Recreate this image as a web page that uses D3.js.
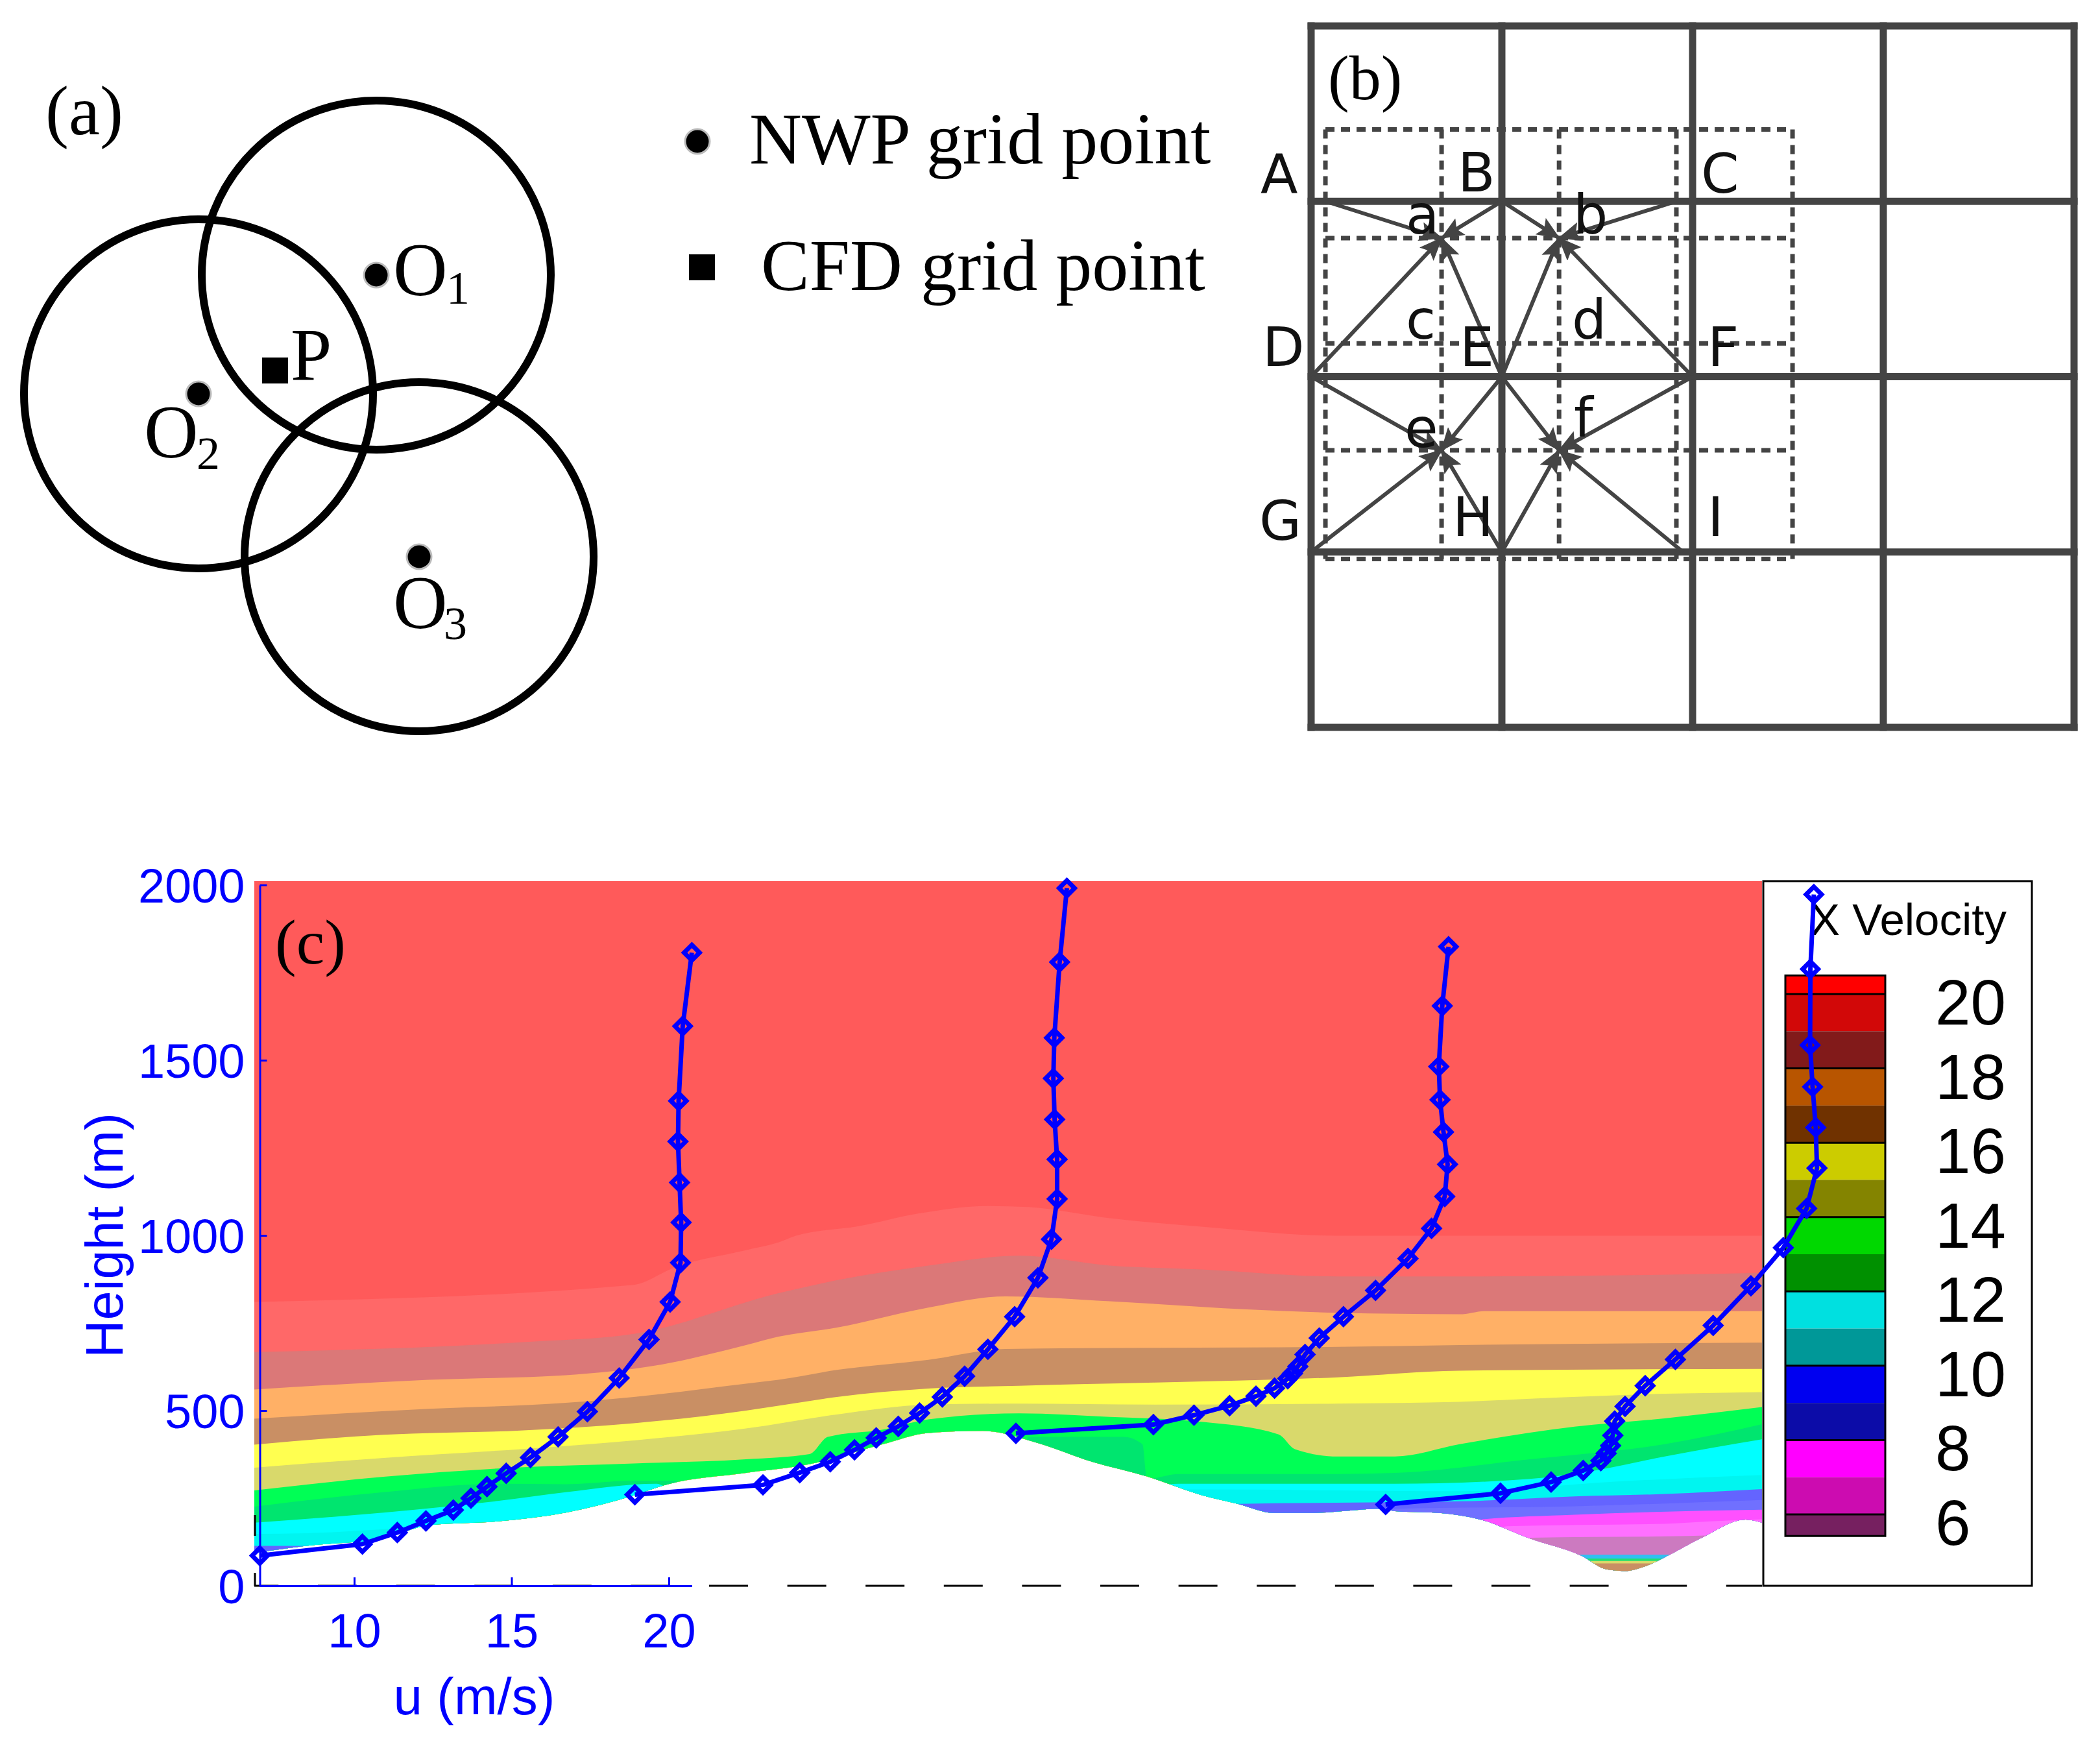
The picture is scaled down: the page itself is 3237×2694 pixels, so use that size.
<!DOCTYPE html>
<html><head><meta charset="utf-8">
<script src="https://cdnjs.cloudflare.com/ajax/libs/d3/7.8.5/d3.min.js"></script>
<style>html,body{margin:0;padding:0;background:#fff}svg{display:block}</style>
</head><body><svg id="c" width="3237" height="2694" viewBox="0 0 3237 2694"></svg>
<script>
// ---------- panel (c) data ----------
const heightTicks = [0,500,1000,1500,2000];
const speedTicks = [10,15,20];
const profileOffsets = [0,12,24,36];
const profile1U = [7.0,10.26,11.37,12.28,13.15,13.71,14.22,14.83,15.6,16.48,17.41,18.42,19.37,20.04,20.37,20.39,20.34,20.29,20.31,20.44,20.73];
const profile1H = [86,119,152,185,216,250,283,321,366,425,497,593,703,810,922,1037,1151,1268,1384,1597,1807];
const profile2U = [6.92,10.99,12.16,13.13,13.90,14.59,15.29,15.97,16.69,17.40,18.14,18.99,19.73,20.16,20.34,20.34,20.26,20.22,20.25,20.42,20.65];
const profile2H = [260,288,323,354,388,422,455,493,539,598,675,768,879,989,1104,1217,1331,1448,1564,1780,1991];
const profile3U = [7.03,11.40,12.69,13.82,14.66,15.25,15.67,15.82,15.99,16.22,16.67,17.44,18.46,19.49,20.24,20.66,20.75,20.62,20.51,20.47,20.58,20.78];
const profile3H = [435,460,487,514,541,564,591,606,626,660,707,768,843,934,1020,1111,1203,1295,1387,1482,1655,1824];
const profile4U = [6.78,10.43,12.04,13.06,13.62,13.79,13.93,14.0,14.06,14.39,15.03,15.99,17.19,18.39,19.42,20.16,20.49,20.45,20.35,20.27,20.28,20.39];
const profile4H = [232,264,296,329,357,378,400,429,470,512,571,646,743,856,965,1077,1192,1308,1424,1543,1760,1973];

// terrain and velocity band edges: [chainage along the section, height (m)]
const terrain = [[0,94],[80,114],[199,135],[269,173],[375,184],[480,209],[585,258],[634,288],[758,322],[856,347],[969,404],[1039,436],[1123,442],[1207,408],[1291,354],[1376,312],[1460,259],[1516,234],[1572,208],[1628,208],[1740,220],[1758,213],[1827,208],[1890,189],[1966,135],[2046,85],[2084,47],[2112,42],[2146,57],[2174,81],[2229,135],[2299,189],[2324,180]];
const edge1 = [[0,810],[585,859],[648,909],[758,958],[808,980],[835,999],[933,1027],[1025,1063],[1130,1084],[1193,1081],[1319,1049],[1460,1025],[1670,999],[1858,999],[2324,999]];
const edge2 = [[0,667],[410,695],[585,719],[808,835],[898,872],[1039,914],[1179,942],[1319,914],[1460,903],[1670,883],[1858,883],[2105,886],[2324,893]];
const edge3 = [[0,560],[269,588],[480,601],[620,629],[758,687],[808,711],[898,737],[1039,794],[1158,826],[1319,812],[1530,789],[1670,779],[1858,775],[1897,784],[2324,784]];
const edge4 = [[0,477],[269,505],[480,522],[620,546],[758,577],[808,588],[898,616],[1039,645],[1158,676],[1390,679],[1670,682],[1858,687],[2324,694]];
const edge5 = [[0,403],[199,431],[410,443],[585,464],[758,500],[808,514],[898,539],[1039,563],[1179,571],[1390,580],[1670,595],[1858,614],[2324,619]];
const edge6 = [[0,337],[199,365],[410,390],[585,415],[758,449],[898,489],[1039,517],[1179,520],[1390,517],[1670,520],[1858,525],[1966,534],[2174,548],[2324,553]];
const edge7 = [[0,272],[199,311],[410,338],[585,349],[758,361],[856,376],[884,425],[969,446],[1039,475],[1179,492],[1319,482],[1460,468],[1579,432],[1604,390],[1670,369],[1758,369],[1858,404],[2035,454],[2174,478],[2324,510]];
const edge8 = [[0,226],[199,267],[375,291],[480,290],[585,300],[650,300],[660,280],[1180,280],[1193,425],[1340,425],[1369,404],[1376,305],[1425,319],[1670,319],[1758,322],[1966,361],[2174,404],[2324,461]];
const edge9 = [[0,180],[199,209],[375,242],[480,267],[620,291],[640,280],[1380,285],[1425,291],[1758,291],[1966,305],[2070,330],[2174,369],[2324,418]];
const edge10 = [[0,148],[80,150],[269,170],[1460,275],[1858,270],[2105,298],[2324,316]];
const edge11 = [[0,114],[80,114],[200,120],[1516,234],[1858,241],[2035,255],[2174,262],[2324,276]];
const edge12 = [[0,80],[1650,195],[1758,220],[2035,227],[2324,245]];
const edge13 = [[0,60],[1880,160],[1890,189],[2035,203],[2324,217]];
const edge14 = [[0,50],[1897,150],[1931,170],[2174,177],[2243,184],[2324,190]];
const edge15 = [[0,40],[1950,130],[1966,137],[2209,142],[2324,150]];
const edge16 = [[0,89],[2324,89]];
const edge17 = [[0,78],[2324,78]];
const edge18 = [[0,71],[2324,71]];
const edge19 = [[0,64],[2324,64]];
const bandEdges = [edge1,edge2,edge3,edge4,edge5,edge6,edge7,edge8,edge9,edge10,edge11,edge12,edge13,edge14,edge15,edge16,edge17,edge18,edge19];
const bandColors = ["#ff6868","#db7878","#ffb066","#c98f64","#ffff50","#d9d96b","#00ff55","#00e56f","#00ffff","#00f5f0","#6464ff","#7070ff","#ff50ff","#ff70ff","#cc7ac0","#30c0f0","#20e070","#d9d96b","#c98f64"];
const fieldColor = "#ff5a5a";

const legendStops = [20.5,20,19,18,17,16,15,14,13,12,11,10,9,8,7,6,5.42];
const legendColors = ["#ff0000","#d20808","#821a1a","#b85500","#703200","#cccc00","#848400","#00d800","#009000","#00e0e0","#009898","#0000f0","#0c0ca8","#ff00ff","#cc0cb0","#762060"];
const legendMajor = [20,18,16,14,12,10,8,6];

// ---------- panel (a) data (scheme units) ----------
const influenceCircles = [{name:"O1",x:580,y:424},{name:"O2",x:306,y:607},{name:"O3",x:646,y:858}];
const influenceRadius = 269;

// ---------- panel (b) data (coarse-cell units) ----------
const coarseLines = [0,1,2,3,4];
const fineX = [0.075,0.684,1.30,1.915,2.524];
const fineY = [0.59,1.21,1.81,2.42,3.04];
const nodes = {A:[0.075,1],B:[1,1],C:[1.915,1],D:[0,2],E:[1,2],F:[2,2],G:[0,3],H:[1,3],I:[1.95,3]};
const fine = {a:[1,1],b:[2,1],e:[1,3],f:[2,3]};
const arrows = [["A","a"],["B","a"],["D","a"],["E","a"],["B","b"],["C","b"],["E","b"],["F","b"],["D","e"],["E","e"],["G","e"],["H","e"],["E","f"],["F","f"],["H","f"],["I","f"]];

// ---------- drawing ----------
const SERIF="'Liberation Serif',serif", SANS="'Liberation Sans',sans-serif", DJ="'DejaVu Sans',sans-serif";
const svg=d3.select("#c");
function txt(s,x,y,size,fam,fill,anchor){return svg.append("text").attr("x",x).attr("y",y).attr("font-size",size).attr("font-family",fam).attr("fill",fill||"#000").attr("text-anchor",anchor||"start").text(s);}

// panel a
const gA=svg.append("g");
gA.selectAll("circle.ring").data(influenceCircles).join("circle").attr("class","ring").attr("cx",d=>d.x).attr("cy",d=>d.y).attr("r",influenceRadius).attr("fill","none").attr("stroke","#000").attr("stroke-width",12);
const dotData=[...influenceCircles,{x:1075,y:218}];
gA.selectAll("circle.dot").data(dotData).join("circle").attr("class","dot").attr("cx",d=>d.x).attr("cy",d=>d.y).attr("r",19).attr("fill","#000").attr("stroke","#bbb").attr("stroke-width",3);
[[424,571],[1082,412]].forEach(p=>gA.append("rect").attr("x",p[0]-20).attr("y",p[1]-20).attr("width",40).attr("height",40).attr("fill","#000"));
txt("(a)",70,207,108,SERIF);
txt("NWP grid point",1155,252,112,SERIF);
txt("CFD grid point",1173,447,112,SERIF);
txt("O",606,455,116,SERIF);txt("1",688,468,72,SERIF);
txt("P",448,585,114,SERIF);
txt("O",222,705,116,SERIF);txt("2",303,723,72,SERIF);
txt("O",606,968,116,SERIF);txt("3",684,985,72,SERIF);

// panel b
const xB=d3.scaleLinear([0,4],[2021,3197]), yB=d3.scaleLinear([0,4],[40,1121]);
const gB=svg.append("g").attr("stroke-linecap","square");
const ink="#444";
const defs=svg.append("defs");
defs.append("marker").attr("id","head").attr("markerUnits","userSpaceOnUse").attr("viewBox","0 -15 36 30").attr("refX",34).attr("refY",0).attr("markerWidth",36).attr("markerHeight",30).attr("orient","auto")
  .append("path").attr("d","M0,-15L36,0L0,15L7,0Z").attr("fill",ink);
fineX.forEach(v=>gB.append("line").attr("x1",xB(v)).attr("x2",xB(v)).attr("y1",yB(fineY[0])).attr("y2",yB(fineY[4])).attr("stroke",ink).attr("stroke-width",7).attr("stroke-dasharray","14,10").attr("stroke-linecap","butt"));
fineY.forEach(v=>gB.append("line").attr("y1",yB(v)).attr("y2",yB(v)).attr("x1",xB(fineX[0])).attr("x2",xB(fineX[4])).attr("stroke",ink).attr("stroke-width",7).attr("stroke-dasharray","14,10").attr("stroke-linecap","butt"));
coarseLines.forEach(v=>{
  gB.append("line").attr("x1",xB(v)).attr("x2",xB(v)).attr("y1",yB(0)).attr("y2",yB(4)).attr("stroke",ink).attr("stroke-width",11);
  gB.append("line").attr("y1",yB(v)).attr("y2",yB(v)).attr("x1",xB(0)).attr("x2",xB(4)).attr("stroke",ink).attr("stroke-width",11);
});
arrows.forEach(([s,t])=>{
  const a=nodes[s],f=fine[t];
  gB.append("line").attr("x1",xB(a[0])).attr("y1",yB(a[1])).attr("x2",xB(fineX[f[0]])).attr("y2",yB(fineY[f[1]])).attr("stroke",ink).attr("stroke-width",6).attr("stroke-linecap","butt").attr("marker-end","url(#head)");
});
txt("(b)",2047,153,98,SERIF);
[["A",1943,298],["B",2247,295],["C",2622,297],["a",2167,360],["b",2425,360],["c",2167,522],["d",2423,522],["D",1946,564],["E",2250,564],["F",2632,564],["e",2165,689],["f",2426,673],["G",1941,832],["H",2239,826],["I",2632,826]]
 .forEach(d=>txt(d[0],d[1],d[2],84,DJ,"#111"));

// panel c
const xU=d3.scaleLinear([7,20],[400.5,1031]);
const yH=d3.scaleLinear([0,2000],[2444,1364]);
const xS=d3.scaleLinear([0,2324],[392,2716]);
const topH=yH.invert(1358);
const gC=svg.append("g");
defs.append("clipPath").attr("id","ground").append("path").attr("d",
  d3.area().x(d=>xS(d[0])).y0(yH(topH)).y1(d=>yH(d[1])).curve(d3.curveMonotoneX)(terrain));
const field=gC.append("g").attr("clip-path","url(#ground)");
field.append("rect").attr("x",xS(0)).attr("y",yH(topH)).attr("width",xS(2324)-xS(0)).attr("height",yH(0)-yH(topH)).attr("fill",fieldColor);
bandEdges.forEach((e,i)=>{
  field.append("path").attr("d",d3.area().x(d=>xS(d[0])).y0(yH(0)).y1(d=>yH(d[1])).curve(d3.curveMonotoneX)(e)).attr("fill",bandColors[i]);
});
// baseline
gC.append("line").attr("x1",xS(0)).attr("x2",xS(2324)).attr("y1",yH(0)).attr("y2",yH(0)).attr("stroke","#000").attr("stroke-width",3).attr("stroke-dasharray","60,60.6").attr("stroke-dashoffset",22.6);
gC.append("line").attr("x1",393).attr("x2",393).attr("y1",2335).attr("y2",2367).attr("stroke","#000").attr("stroke-width",3);
gC.append("line").attr("x1",393).attr("x2",393).attr("y1",2424).attr("y2",2444).attr("stroke","#000").attr("stroke-width",3);
// axes
const axisX=d3.scaleLinear([7,20.73],[xU(7),xU(20.73)]);
const ax=gC.append("g").attr("transform",`translate(0,${yH(0)})`).call(d3.axisBottom(axisX).tickValues(speedTicks).tickFormat(d3.format("d")).tickSizeInner(-13).tickSizeOuter(0).tickPadding(42));
const ay=gC.append("g").attr("transform",`translate(${xU(7)},0)`).call(d3.axisLeft(yH).tickValues(heightTicks).tickFormat(d3.format("d")).tickSizeInner(-11).tickSizeOuter(0).tickPadding(23));
[ax,ay].forEach(a=>{a.selectAll("path,line").attr("stroke","#0000ff").attr("stroke-width",3);a.selectAll("text").attr("fill","#0000ff").attr("font-size",74).attr("font-family",SANS);a.attr("font-family",SANS);});
ay.selectAll("text").attr("y",3);
txt("u (m/s)",731,2642,80,SANS,"#0000ff","middle");
svg.append("text").attr("transform","translate(189,1904) rotate(-90)").attr("text-anchor","middle").attr("font-size",81).attr("font-family",SANS).attr("fill","#0000ff").text("Height (m)");
txt("(c)",424,1485,98,SERIF);

// legend
const yL=d3.scaleLinear([20,6],[1532,2334]);
const gL=svg.append("g");
gL.append("rect").attr("x",2718).attr("y",1358).attr("width",414).attr("height",1086).attr("fill","#fff").attr("stroke","#000").attr("stroke-width",3);
txt("X Velocity",2790,1441,69,SANS);
gL.selectAll("rect.seg").data(legendColors).join("rect").attr("class","seg").attr("x",2752).attr("width",154).attr("y",(d,i)=>yL(legendStops[i])).attr("height",(d,i)=>yL(legendStops[i+1])-yL(legendStops[i])).attr("fill",d=>d);
gL.selectAll("line.maj").data(legendMajor).join("line").attr("class","maj").attr("x1",2752).attr("x2",2906).attr("y1",d=>yL(d)).attr("y2",d=>yL(d)).attr("stroke","#000").attr("stroke-width",3);
gL.append("rect").attr("x",2752).attr("y",yL(20.5)).attr("width",154).attr("height",yL(5.42)-yL(20.5)).attr("fill","none").attr("stroke","#000").attr("stroke-width",3);
gL.selectAll("text.lab").data(legendMajor).join("text").attr("class","lab").attr("x",2983).attr("y",d=>yL(d)+47).attr("font-size",98).attr("font-family",SANS).attr("fill","#000").text(d=>d);

// profiles
const profiles=[[profile1U,profile1H],[profile2U,profile2H],[profile3U,profile3H],[profile4U,profile4H]];
const gP=svg.append("g");
const diamond=d3.symbol().type(d3.symbolDiamond2).size(360);
profiles.forEach(([us,hs],k)=>{
  const pts=us.map((u,i)=>[xU(u+profileOffsets[k]),yH(hs[i])]);
  gP.append("path").attr("d",d3.line()(pts)).attr("fill","none").attr("stroke","#0000ff").attr("stroke-width",7).attr("stroke-linejoin","round");
  gP.selectAll(null).data(pts).join("path").attr("d",diamond).attr("transform",d=>`translate(${d[0]},${d[1]})`).attr("fill","none").attr("stroke","#0000ff").attr("stroke-width",7);
});
</script></body></html>
